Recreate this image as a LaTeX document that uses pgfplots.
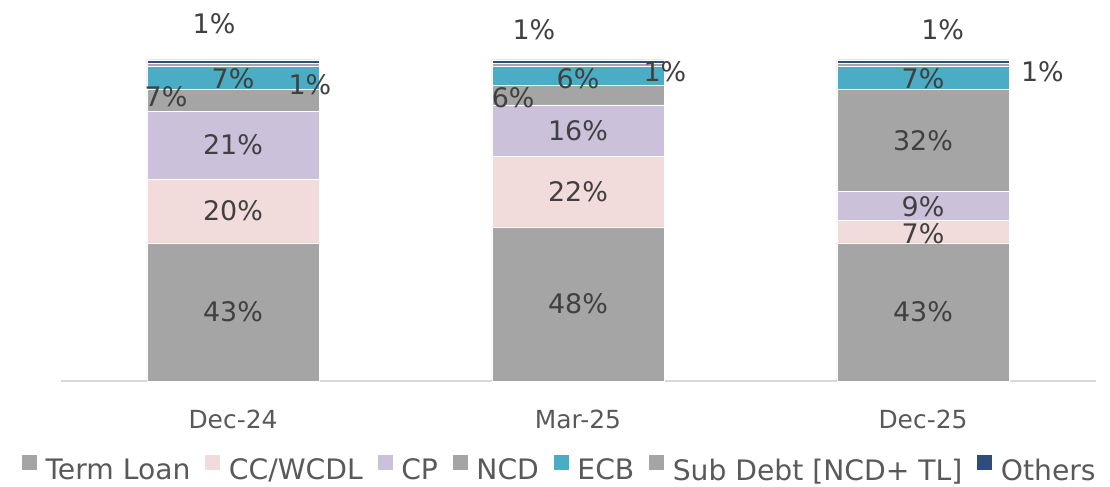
\documentclass[border=0pt]{standalone}
\usepackage{pgfplots}
\pgfplotsset{compat=1.18}
\usepackage{fontspec}
\setmainfont{DejaVu Sans}
\definecolor{tlc}{HTML}{A5A5A5}
\definecolor{ccc}{HTML}{F2DCDB}
\definecolor{cpc}{HTML}{CCC1DA}
\definecolor{ncdc}{HTML}{A5A5A5}
\definecolor{ecbc}{HTML}{4BACC6}
\definecolor{subc}{HTML}{A5A5A5}
\definecolor{othc}{HTML}{2E4D7B}
\definecolor{lblc}{HTML}{404040}
\definecolor{tickc}{HTML}{595959}
\definecolor{axc}{HTML}{D9D9D9}
\newcommand\lblfont{\fontsize{27}{32}\selectfont}
\newcommand\tickfont{\fontsize{25}{30}\selectfont}
\newcommand\legfont{\fontsize{28.3}{33}\selectfont}
\tikzset{lbl/.style={font=\lblfont, text=lblc}}
\begin{document}
\begin{tikzpicture}
\begin{axis}[name=ax, scale only axis, width=1035bp, height=381bp,
  xmin=-0.5, xmax=2.5, ymin=0, ymax=118.69, enlargelimits=false,
  ybar stacked, bar width=0.4986, clip=false,
  axis x line*=bottom, axis y line=none,
  x axis line style={draw=axc, line width=1.3bp},
  xtick={0,1,2}, xticklabels={Dec-24,Mar-25,Dec-25},
  major tick length=0pt,
  xticklabel style={font=\tickfont, text=tickc, yshift=-25bp},
  legend style={at={(0.481,-0.228)}, anchor=center, draw=none, fill=none,
    font=\legfont, text=tickc, nodes={inner sep=0pt},
    /tikz/every odd column/.append style={column sep=8bp},
    /tikz/every even column/.append style={column sep=14bp}},
  legend columns=-1,
  legend image code/.code={\fill[#1] (0bp,0bp) rectangle (16bp,16bp);},
]
\addplot[fill=tlc, draw=white, line width=0.5bp] coordinates {(0,43) (1,48) (2,43)};
\addplot[fill=ccc, draw=white, line width=0.5bp] coordinates {(0,20) (1,22) (2,7)};
\addplot[fill=cpc, draw=white, line width=0.5bp] coordinates {(0,21) (1,16) (2,9)};
\addplot[fill=ncdc, draw=white, line width=0.5bp] coordinates {(0,7) (1,6) (2,32)};
\addplot[fill=ecbc, draw=white, line width=0.5bp] coordinates {(0,7) (1,6) (2,7)};
\addplot[fill=subc, draw=white, line width=0.5bp] coordinates {(0,1) (1,1) (2,1)};
\addplot[fill=othc, draw=white, line width=0.5bp] coordinates {(0,1) (1,1) (2,1)};
\legend{Term Loan, CC/WCDL, CP, NCD, ECB, Sub Debt [NCD+ TL], Others}
% Dec-24
\coordinate (a1) at (axis cs:0,21.5);
\coordinate (a2) at (axis cs:0,53);
\coordinate (a3) at (axis cs:0,73.5);
\coordinate (a4) at (axis cs:-0.194,88.5);
\coordinate (a5) at (axis cs:0,94.2);
\coordinate (a6) at (axis cs:0.223,92.3);
\coordinate (a7) at (axis cs:-0.055,111.2);
% Mar-25
\coordinate (b1) at (axis cs:1,24);
\coordinate (b2) at (axis cs:1,59);
\coordinate (b3) at (axis cs:1,78);
\coordinate (b4) at (axis cs:0.812,88.2);
\coordinate (b5) at (axis cs:1,94.2);
\coordinate (b6) at (axis cs:1.252,96.4);
\coordinate (b7) at (axis cs:0.872,109.3);
% Dec-25
\coordinate (c1) at (axis cs:2,21.5);
\coordinate (c2) at (axis cs:2,45.8);
\coordinate (c3) at (axis cs:2,54.2);
\coordinate (c4) at (axis cs:2,75);
\coordinate (c5) at (axis cs:2,94.2);
\coordinate (c6) at (axis cs:2.346,96.4);
\coordinate (c7) at (axis cs:2.057,109.3);
\end{axis}
\node[lbl] at (a1) {43\%};
\node[lbl] at (a2) {20\%};
\node[lbl] at (a3) {21\%};
\node[lbl] at (a4) {7\%};
\node[lbl] at (a5) {7\%};
\node[lbl] at (a6) {1\%};
\node[lbl] at (a7) {1\%};
\node[lbl] at (b1) {48\%};
\node[lbl] at (b2) {22\%};
\node[lbl] at (b3) {16\%};
\node[lbl] at (b4) {6\%};
\node[lbl] at (b5) {6\%};
\node[lbl] at (b6) {1\%};
\node[lbl] at (b7) {1\%};
\node[lbl] at (c1) {43\%};
\node[lbl] at (c2) {7\%};
\node[lbl] at (c3) {9\%};
\node[lbl] at (c4) {32\%};
\node[lbl] at (c5) {7\%};
\node[lbl] at (c6) {1\%};
\node[lbl] at (c7) {1\%};
\pgfresetboundingbox
\path ([xshift=-60.5bp,yshift=-105bp]ax.south west) rectangle ([xshift=14.5bp]ax.north east);
\end{tikzpicture}
\end{document}
